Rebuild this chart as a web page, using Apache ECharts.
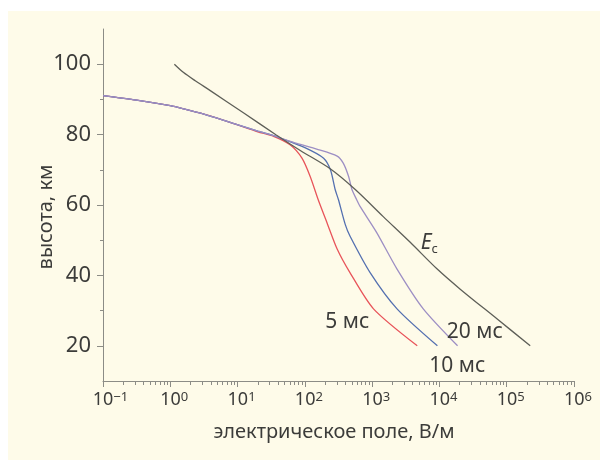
<!DOCTYPE html>
<html><head><meta charset="utf-8">
<script src="https://cdn.jsdelivr.net/npm/echarts@6/dist/echarts.min.js"></script>
<style>
html,body{margin:0;padding:0;background:#fff;}
#wrap{position:relative;width:600px;height:460px;background:#fff;overflow:hidden;}
#bg{position:absolute;left:8px;top:11px;right:0;bottom:0;background:#fefbe9;}
#chart{position:absolute;left:0;top:0;width:600px;height:460px;}
</style></head><body>
<div id="wrap"><div id="bg"></div><div id="chart"></div></div>
<script>
// ---- tick values / labels ----
const xTickValues = [0.1, 1, 10, 100, 1000, 10000, 100000, 1000000];
const xTickExponents = ['−1', '0', '1', '2', '3', '4', '5', '6'];
const yTickLabels = [20, 40, 60, 80, 100];
const yMinorTicks = [30, 50, 70, 90];

// ---- series values: [E (В/м), высота (км)] ----
const curveEc = [[1.15,100],[1.56,97.7],[2.35,95.3],[3.93,92.5],[12.2,86.2],[37.6,79.9],[85.5,75.5],[238,70.3],[561,64.4],[1462,56.7],[3681,49.4],[9268,41.8],[20370,36.1],[72280,27.6],[223400,20.0]];
const curve5ms = [[0.1,91.1],[0.316,89.8],[1,88.2],[1.585,87.3],[3.16,85.8],[7.94,83.4],[20,80.8],[34.3,79.5],[60.3,77.1],[90.6,73.3],[120,68.1],[158,61.5],[214,54.9],[302,47.5],[468,40.8],[1047,30.5],[4680,20]];
const curve10ms = [[0.1,91.1],[0.316,89.8],[1,88.2],[1.585,87.3],[3.16,85.8],[7.94,83.4],[20,81.0],[34.3,79.7],[43.2,79.0],[100,76.3],[190,73.3],[240,70.0],[282,64.4],[316,61.5],[398,54.5],[468,51.2],[933,40.8],[2344,30.5],[9330,20]];
const curve20ms = [[0.1,91.1],[0.316,89.8],[1,88.2],[1.585,87.3],[3.16,85.8],[7.94,83.4],[20,81.0],[34.3,79.7],[75.9,77.5],[150,75.9],[302,73.9],[372,71.9],[447,68.1],[501,64.4],[589,61.5],[661,59.6],[1175,52.1],[2344,41.8],[5754,30.5],[18600,20]];

// ---- label anchors (data coords) ----
const labelEc = [7080, 48.8];
const label5 = [427, 26.8];
const label10 = [18400, 14.2];
const label20 = [33500, 23.8];

const xMinorTicks = [];
for (let d = -1; d <= 5; d++) for (let m = 2; m <= 9; m++) xMinorTicks.push(m * Math.pow(10, d));

const axisColor = '#8c8c86';
const textColor = '#3c3c3a';
const FONT = 'Noto Sans';

function mkLabel(text, pos, extra) {
  return {
    symbol: 'circle', symbolSize: 1, silent: true,
    itemStyle: {color: 'rgba(0,0,0,0)'},
    label: Object.assign({show: true, position: 'inside', formatter: text, fontSize: 21, color: textColor, fontFamily: FONT}, extra || {}),
    data: [{coord: pos}]
  };
}

const chart = echarts.init(document.getElementById('chart'), null, {renderer: 'canvas'});
chart.setOption({
  backgroundColor: 'transparent',
  animation: false,
  textStyle: {fontFamily: FONT},
  grid: {left: 103, right: 26, top: 29, bottom: 79, containLabel: false},
  xAxis: [{
    type: 'log', logBase: 10, min: 0.1, max: 1000000,
    axisLine: {show: true, lineStyle: {color: axisColor, width: 1}},
    axisTick: {show: true, length: 6, customValues: xTickValues, lineStyle: {color: axisColor}},
    minorTick: {show: false},
    splitLine: {show: false},
    axisLabel: {
      customValues: xTickValues, margin: 10, color: textColor, fontSize: 18, fontFamily: FONT,
      formatter: function (v) {
        const i = Math.round(Math.log10(v)) + 1;
        const s = xTickExponents[i];
        return '{sp' + s.length + '| }10{sup|' + s + '}';
      },
      rich: {
        sp1: {width: 8, fontSize: 12},
        sp2: {width: 15, fontSize: 12},
        sup: {fontSize: 13, color: textColor, verticalAlign: 'top', lineHeight: 13, padding: [0, 0, 10, 0]}
      }
    },
    name: 'электрическое поле, В/м', nameLocation: 'middle', nameGap: 41,
    nameTextStyle: {fontSize: 20, color: textColor, fontFamily: FONT, padding: [0, 9, 0, 0]}
  }, {
    type: 'log', logBase: 10, min: 0.1, max: 1000000, position: 'bottom', offset: 0,
    axisLine: {show: false}, axisLabel: {show: false}, splitLine: {show: false},
    axisTick: {show: true, length: 4, customValues: xMinorTicks, lineStyle: {color: axisColor}}
  }],
  yAxis: [{
    type: 'value', min: 10, max: 110, interval: 10,
    axisLine: {show: true, lineStyle: {color: axisColor, width: 1}},
    axisTick: {show: true, length: 6, customValues: yTickLabels, lineStyle: {color: axisColor}},
    splitLine: {show: false},
    axisLabel: {customValues: yTickLabels, margin: 12, fontSize: 22, color: textColor, fontFamily: FONT},
    name: 'высота, км', nameLocation: 'middle', nameGap: 47, nameMoveOverlap: false,
    nameTextStyle: {fontSize: 20, color: textColor, fontFamily: FONT, padding: [0, 24, 0, 0]}
  }, {
    type: 'value', min: 10, max: 110, position: 'left', offset: 0,
    axisLine: {show: false}, axisLabel: {show: false}, splitLine: {show: false},
    axisTick: {show: true, length: 3, customValues: yMinorTicks, lineStyle: {color: axisColor}}
  }],
  series: [
    {name: '5 мс', type: 'line', data: curve5ms, showSymbol: false, smooth: 0.25,
     lineStyle: {color: '#e8545a', width: 1.3}, markPoint: mkLabel('5 мс', label5)},
    {name: '10 мс', type: 'line', data: curve10ms, showSymbol: false, smooth: 0.25,
     lineStyle: {color: '#5470b0', width: 1.3}, markPoint: mkLabel('10 мс', label10)},
    {name: '20 мс', type: 'line', data: curve20ms, showSymbol: false, smooth: 0.25,
     lineStyle: {color: '#9d8fc4', width: 1.3}, markPoint: mkLabel('20 мс', label20)},
    {name: 'Ec', type: 'line', data: curveEc, showSymbol: false, smooth: 0.3,
     lineStyle: {color: '#5e5f58', width: 1.3},
     markPoint: mkLabel('{e|E}{c|c}', labelEc, {rich: {
       e: {fontSize: 21, fontStyle: 'italic', color: textColor, fontFamily: FONT, verticalAlign: 'top'},
       c: {fontSize: 13, color: textColor, fontFamily: FONT, verticalAlign: 'bottom', padding: [10, 0, 0, 0]}
     }})}
  ]
});
</script>
</body></html>
